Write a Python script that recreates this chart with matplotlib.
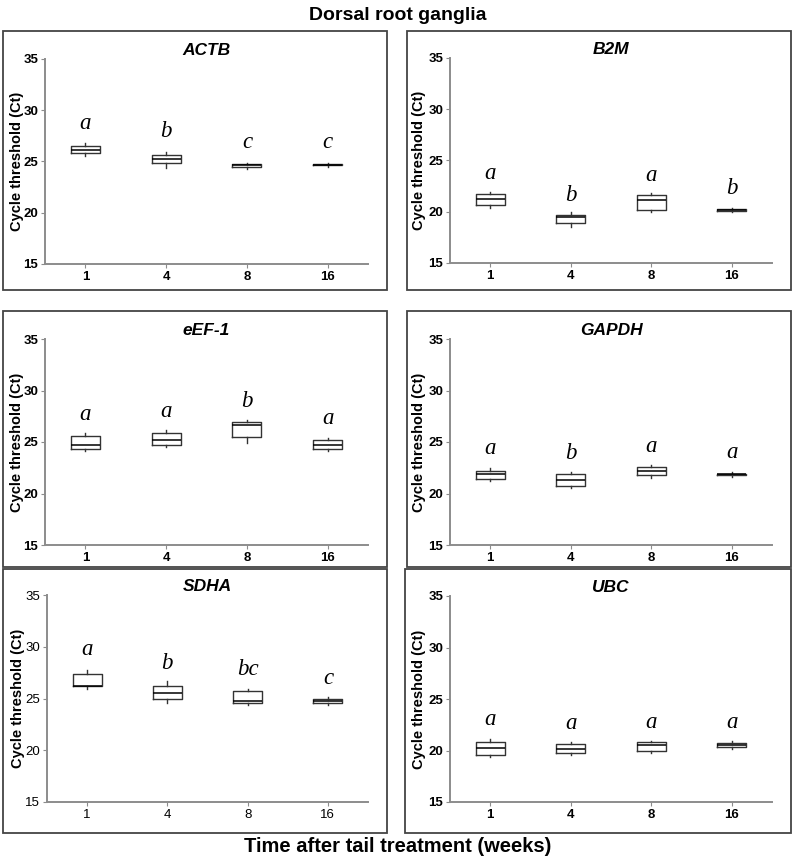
import matplotlib
matplotlib.use("Agg")
import matplotlib.pyplot as plt
from matplotlib.patches import Rectangle

plt.rcParams['font.family'] = ['Liberation Sans', 'DejaVu Sans']

weeks = ["1", "4", "8", "16"]
genes = ["ACTB", "B2M", "eEF-1", "GAPDH", "SDHA", "UBC"]

# per gene, per week: whisker low, q1, median, q3, whisker high
actb_low = [25.55, 24.35, 24.25, 24.50]
actb_q1 = [25.80, 24.85, 24.48, 24.63]
actb_med = [26.10, 25.20, 24.62, 24.69]
actb_q3 = [26.50, 25.60, 24.76, 24.76]
actb_high = [26.80, 25.95, 24.90, 24.90]

b2m_low = [20.35, 18.55, 20.00, 19.95]
b2m_q1 = [20.70, 18.90, 20.20, 20.10]
b2m_med = [21.20, 19.50, 21.15, 20.15]
b2m_q3 = [21.75, 19.70, 21.60, 20.22]
b2m_high = [21.95, 19.95, 21.85, 20.35]

eef_low = [24.10, 24.55, 24.95, 24.10]
eef_q1 = [24.30, 24.70, 25.45, 24.30]
eef_med = [24.75, 25.20, 26.65, 24.75]
eef_q3 = [25.55, 25.90, 26.90, 25.15]
eef_high = [25.85, 26.20, 27.10, 25.40]

gapdh_low = [21.20, 20.50, 21.50, 21.65]
gapdh_q1 = [21.40, 20.75, 21.80, 21.80]
gapdh_med = [21.85, 21.35, 22.20, 21.87]
gapdh_q3 = [22.15, 21.85, 22.55, 21.93]
gapdh_high = [22.50, 22.05, 22.80, 22.10]

sdha_low = [25.95, 24.60, 24.35, 24.40]
sdha_q1 = [26.20, 25.00, 24.55, 24.60]
sdha_med = [26.25, 25.50, 24.80, 24.80]
sdha_q3 = [27.35, 26.20, 25.70, 25.00]
sdha_high = [27.75, 26.70, 25.95, 25.10]

ubc_low = [19.35, 19.55, 19.75, 20.10]
ubc_q1 = [19.60, 19.80, 20.00, 20.35]
ubc_med = [20.25, 20.10, 20.50, 20.50]
ubc_q3 = [20.85, 20.60, 20.80, 20.70]
ubc_high = [21.10, 20.80, 20.90, 20.90]

# significance letters and their heights
actb_letters = ["a", "b", "c", "c"]
actb_letter_y = [28.70, 27.90, 26.90, 26.90]
b2m_letters = ["a", "b", "a", "b"]
b2m_letter_y = [23.70, 21.60, 23.55, 22.30]
eef_letters = ["a", "a", "b", "a"]
eef_letter_y = [27.65, 27.95, 28.95, 27.25]
gapdh_letters = ["a", "b", "a", "a"]
gapdh_letter_y = [24.40, 23.85, 24.55, 23.95]
sdha_letters = ["a", "b", "bc", "c"]
sdha_letter_y = [29.70, 28.40, 27.80, 26.95]
ubc_letters = ["a", "a", "a", "a"]
ubc_letter_y = [23.00, 22.60, 22.75, 22.75]

data = {
    "ACTB": (actb_low, actb_q1, actb_med, actb_q3, actb_high, actb_letters, actb_letter_y),
    "B2M": (b2m_low, b2m_q1, b2m_med, b2m_q3, b2m_high, b2m_letters, b2m_letter_y),
    "eEF-1": (eef_low, eef_q1, eef_med, eef_q3, eef_high, eef_letters, eef_letter_y),
    "GAPDH": (gapdh_low, gapdh_q1, gapdh_med, gapdh_q3, gapdh_high, gapdh_letters, gapdh_letter_y),
    "SDHA": (sdha_low, sdha_q1, sdha_med, sdha_q3, sdha_high, sdha_letters, sdha_letter_y),
    "UBC": (ubc_low, ubc_q1, ubc_med, ubc_q3, ubc_high, ubc_letters, ubc_letter_y),
}

W, H = 796, 861
fig = plt.figure(figsize=(W / 100, H / 100), dpi=100)

# axes rectangles in pixels: (left, top, right, bottom), plus ylabel centre x
axes_px = {
    "ACTB": (45, 59, 368, 264, 17),
    "B2M": (450, 58, 772, 263, 419),
    "eEF-1": (45, 339, 368, 545, 17),
    "GAPDH": (450, 339, 772, 545, 419),
    "SDHA": (47, 595, 368, 802, 18),
    "UBC": (450, 596, 772, 802, 419),
}
frames_px = [
    (3, 31, 387, 290), (407, 31, 791, 290),
    (3, 311, 387, 567), (407, 311, 791, 567),
    (3, 569, 387, 833), (405, 569, 791, 833),
]

for (l, t, r, b) in frames_px:
    fig.patches.append(Rectangle((l / W, 1 - b / H), (r - l) / W, (b - t) / H,
                                 transform=fig.transFigure, fill=False,
                                 edgecolor="#444444", linewidth=1.3, zorder=0))

spine_col = "#8c8c8c"
for gene in genes:
    l, t, r, b, lx = axes_px[gene]
    ax = fig.add_axes([l / W, 1 - b / H, (r - l) / W, (b - t) / H])
    low, q1, med, q3, high, letters, ly = data[gene]
    stats = []
    for i in range(len(weeks)):
        stats.append({"whislo": low[i], "q1": q1[i], "med": med[i], "q3": q3[i],
                      "whishi": high[i], "fliers": [], "label": weeks[i]})
    ax.bxp(stats, positions=range(len(weeks)), widths=0.36, showcaps=False,
           showfliers=False,
           boxprops=dict(color="#333333", linewidth=1.0),
           whiskerprops=dict(color="#333333", linewidth=1.0),
           medianprops=dict(color="black", linewidth=1.1))
    for i, (lt, y) in enumerate(zip(letters, ly)):
        ax.text(i, y, lt, ha="center", va="center", fontsize=16.5,
                family="Liberation Serif", style="italic")
    ax.set_xlim(-0.5, 3.5)
    ax.set_ylim(15, 35)
    ax.set_yticks([15, 20, 25, 30, 35])
    ax.set_xticks(range(len(weeks)))
    ax.set_xticklabels(weeks)
    wt = "normal" if gene == "SDHA" else "bold"
    for lab in ax.get_xticklabels() + ax.get_yticklabels():
        lab.set_fontweight(wt)
        lab.set_fontsize(9.5)
    ax.tick_params(axis="both", length=3, width=0.8, color=spine_col, pad=2)
    for s in ["top", "right"]:
        ax.spines[s].set_visible(False)
    for s in ["left", "bottom"]:
        ax.spines[s].set_color(spine_col)
        ax.spines[s].set_linewidth(1.4)
    ax.set_ylabel("Cycle threshold (Ct)", fontsize=10.5, fontweight="bold",
                  va="center")
    ax.yaxis.set_label_coords((lx - l) / (r - l), 0.5)
    ax.text(0.5, 1.04, gene, transform=ax.transAxes, ha="center", va="center",
            fontsize=12.5, fontweight="bold", style="italic")

fig.text(0.5, 1 - 16 / H, "Dorsal root ganglia", ha="center", va="center",
         fontsize=14, fontweight="bold")
fig.text(0.5, 1 - 847 / H, "Time after tail treatment (weeks)", ha="center",
         va="center", fontsize=14.5, fontweight="bold")

fig.savefig("out.png", dpi=100)
